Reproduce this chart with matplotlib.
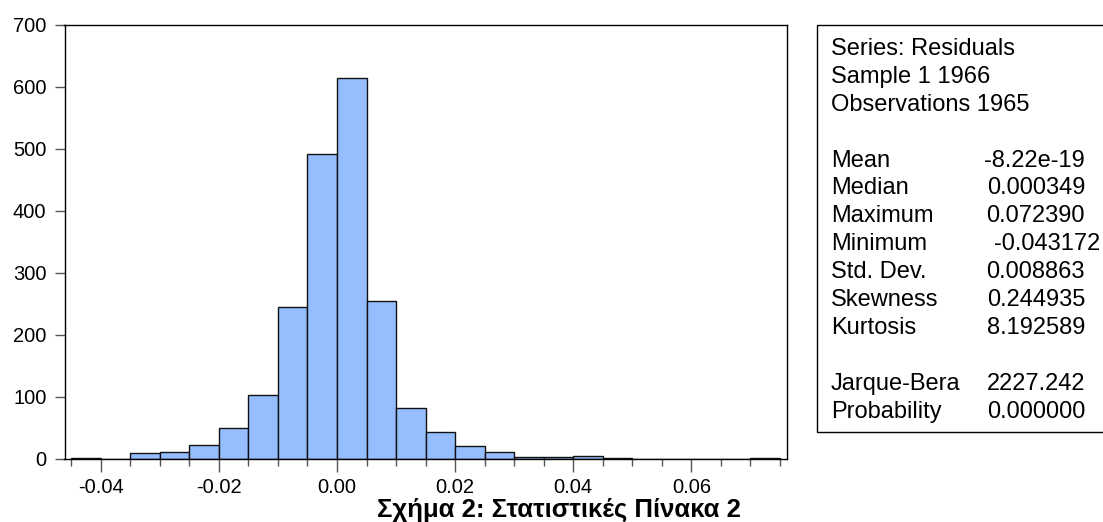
import matplotlib
matplotlib.use("Agg")
import matplotlib.pyplot as plt
import numpy as np
from matplotlib.patches import Rectangle
from matplotlib.ticker import MultipleLocator, FixedLocator

plt.rcParams['font.family'] = ['Liberation Sans', 'DejaVu Sans']

# Histogram data (bin edges every 0.005 from -0.045 to 0.075)
bin_left = [-0.045, -0.040, -0.035, -0.030, -0.025, -0.020, -0.015, -0.010,
            -0.005, 0.000, 0.005, 0.010, 0.015, 0.020, 0.025, 0.030,
            0.035, 0.040, 0.045, 0.050, 0.055, 0.060, 0.065, 0.070]
counts = [1, 0, 9, 11, 22, 49, 103, 244, 492, 615, 255, 82,
          42, 20, 11, 2, 2, 4, 1, 0, 0, 0, 0, 1]
bin_width = 0.005

x_ticks = [-0.04, -0.02, 0.00, 0.02, 0.04, 0.06]
x_ticklabels = ["-0.04", "-0.02", "0.00", "0.02", "0.04", "0.06"]
y_ticks = [0, 100, 200, 300, 400, 500, 600, 700]

stat_header = ["Series: Residuals", "Sample 1 1966", "Observations 1965"]
stat_names = ["Mean", "Median", "Maximum", "Minimum", "Std. Dev.", "Skewness", "Kurtosis"]
stat_values = ["-8.22e-19", "0.000349", "0.072390", "-0.043172", "0.008863", "0.244935", "8.192589"]
test_names = ["Jarque-Bera", "Probability"]
test_values = ["2227.242", "0.000000"]

caption = "Σχήμα 2: Στατιστικές Πίνακα 2"

W, H = 1103, 522
fig = plt.figure(figsize=(W / 100, H / 100), dpi=100)

ax_l, ax_r, ax_t, ax_b = 64.5, 787, 25, 458.5
ax = fig.add_axes([ax_l / W, 1 - ax_b / H, (ax_r - ax_l) / W, (ax_b - ax_t) / H])
ax.bar(bin_left, counts, width=bin_width, align='edge', color='#96BEFF',
       edgecolor='#111111', linewidth=1.0)
ax.set_xlim(-0.04615, 0.0762)
ax.set_ylim(0, 700)
ax.xaxis.set_major_locator(FixedLocator(x_ticks))
ax.set_xticklabels(x_ticklabels)
ax.xaxis.set_minor_locator(MultipleLocator(0.005))
ax.set_yticks(y_ticks)
ax.tick_params(axis='x', which='major', direction='out', length=9, width=1,
               color='#555555', labelsize=14.5, pad=5)
ax.tick_params(axis='x', which='minor', direction='out', length=5, width=1,
               color='#555555')
ax.tick_params(axis='y', which='major', direction='out', length=7, width=1,
               color='#555555', labelsize=14.5, pad=6)
for s in ax.spines.values():
    s.set_linewidth(1.0)
    s.set_color('black')

# Statistics box
bx_l, bx_t, bx_b = 816.7, 25.3, 432
fig.patches.append(Rectangle((bx_l / W, 1 - bx_b / H), (W + 5 - bx_l) / W,
                             (bx_b - bx_t) / H, transform=fig.transFigure,
                             facecolor='white', edgecolor='black', linewidth=1.0,
                             clip_on=False))
lab_x = 831 / W
val_x = 1085 / W
base0, step = 55, 27.9
fs = 17

def row_y(i):
    return 1 - (base0 + step * i) / H

for i, t in enumerate(stat_header):
    fig.text(lab_x, row_y(i), t, fontsize=fs, va='baseline', ha='left')
for j, (n, v) in enumerate(zip(stat_names, stat_values)):
    i = 4 + j
    fig.text(lab_x, row_y(i), n, fontsize=fs, va='baseline', ha='left')
    vx = 1100 / W if n == "Minimum" else val_x
    fig.text(vx, row_y(i), v, fontsize=fs, va='baseline', ha='right')
for j, (n, v) in enumerate(zip(test_names, test_values)):
    i = 12 + j
    fig.text(lab_x, row_y(i), n, fontsize=fs, va='baseline', ha='left')
    fig.text(val_x, row_y(i), v, fontsize=fs, va='baseline', ha='right')

fig.text(558.5 / W, 1 - 517 / H, caption, fontsize=18.5, fontweight='bold',
         ha='center', va='baseline')

fig.savefig("out.png", dpi=100)
